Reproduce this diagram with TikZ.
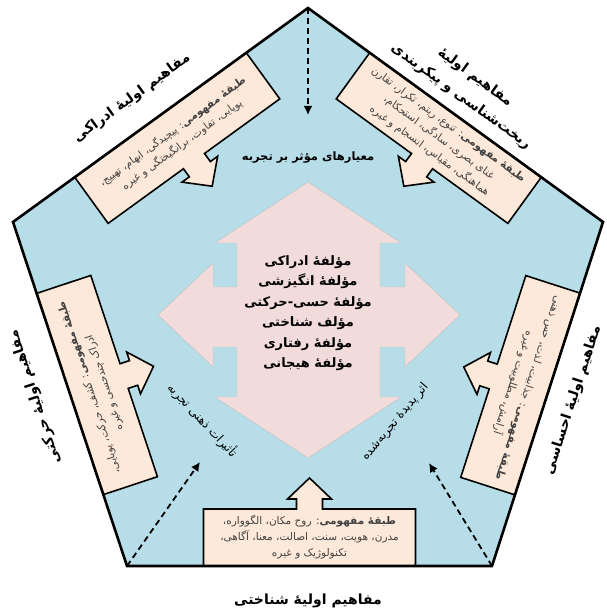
\documentclass[tikz,border=0pt]{standalone}
\usepackage{fontspec}
\usetikzlibrary{arrows.meta}
\TeXXeTstate=1
\newfontfamily\fa[Script=Arabic,BoldFont={DejaVu Sans Bold}]{DejaVu Sans}
\newcommand\RL[1]{\beginR #1\endR}
\definecolor{penta}{HTML}{B7DDE8}
\definecolor{peach}{HTML}{FDE9D9}
\definecolor{pinkstar}{HTML}{F2DCDB}
\tikzset{
  calloutshape/.style={draw=black,line width=1.6pt,fill=peach,line join=miter},
  boxtext/.style={font=\fa\fontsize{10.5}{16}\selectfont,text=black!75,align=center,inner sep=0pt},
  labeltext/.style={font=\fa\bfseries\fontsize{14}{24}\selectfont,align=center,inner sep=0pt},
  startext/.style={font=\fa\bfseries\fontsize{13}{20.5}\selectfont,align=center,inner sep=0pt},
  toptext/.style={font=\fa\bfseries\fontsize{11.5}{14}\selectfont,inner sep=0pt},
  sidetext/.style={font=\fa\fontsize{12}{14}\selectfont,inner sep=0pt},
  dasharrow/.style={line width=1.8pt,dash pattern=on 6pt off 4pt,-{Latex[length=9pt,width=9pt]}},
}
\newcommand\callout[3]{%
  \begin{scope}[shift={#1},rotate=#2]
    \draw[calloutshape] (-106,0) -- (106,0) -- (106,57) -- (13,57) -- (13,67) -- (22,67)
      -- (0,88) -- (-22,67) -- (-13,67) -- (-13,57) -- (-106,57) -- cycle;
    \coordinate (#3) at (0,28.5);
  \end{scope}}
\begin{document}
\begin{tikzpicture}[x=1pt,y=1pt]
\useasboundingbox (0,0) rectangle (606,615);
% pentagon vertices
\coordinate (A) at (308,607);
\coordinate (B) at (603,393);
\coordinate (C) at (492,49);
\coordinate (D) at (127,49);
\coordinate (E) at (13,393);
\fill[penta] (A) -- (E) -- (D) -- (C) -- (B) -- cycle;
% center star
\fill[pinkstar,draw=black!25,line width=0.4pt]
  (308,433) -- (401,372) -- (380,372) -- (380,328) -- (405,328) -- (405,352)
  -- (460,300) -- (405,248) -- (405,268) -- (380,268) -- (380,218) -- (401,218)
  -- (308,157) -- (215,218) -- (237,218) -- (237,268) -- (213,268) -- (213,248)
  -- (158,300) -- (213,352) -- (213,328) -- (237,328) -- (237,372) -- (215,372) -- cycle;
% callouts
\callout{(160.5,500)}{215.96}{tl}
\callout{(70,221)}{-71.67}{lf}
\callout{(309.5,49)}{0}{bt}
\callout{(547.5,221)}{72.12}{rt}
\callout{(455.5,500)}{144.04}{tr}
\draw[line width=2.6pt,line join=miter] (A) -- (E) -- (D) -- (C) -- (B) -- cycle;
% dashed arrows
\coordinate (dA) at (308,500);
\coordinate (dD) at (200,153);
\coordinate (dC) at (429,152);
\draw[dasharrow] (A) -- (dA);
\draw[dasharrow] (D) -- (dD);
\draw[dasharrow] (C) -- (dC);
% box texts
\node[boxtext,rotate=36] (ttl) at (tl) {\RL{\textbf{طبقهٔ مفهومی}: پیچیدگی، ابهام، تهییج،}\\\RL{پویایی، تفاوت، برانگیختگی و غیره}};
\node[boxtext,rotate=-36] (ttr) at (tr) {\RL{\textbf{طبقهٔ مفهومی}: تنوع، ریتم، تکرار، تقارن}\\\RL{غنای بصری، سادگی، استحکام،}\\\RL{هماهنگی، مقیاس، انسجام و غیره}};
\node[boxtext,rotate=108] (tlf) at (lf) {\RL{\textbf{طبقهٔ مفهومی}: کشف، حرکت، پویایی،}\\\RL{ادراک چندحسی و غیره}};
\node[boxtext,rotate=-108] (trt) at (rt) {\RL{\textbf{طبقهٔ مفهومی}: جذابیت، لذت، حس ذهنی}\\\RL{آرامش، مطلوبیت و غیره}};
\node[boxtext] (tbt) at (bt) {\RL{\textbf{طبقهٔ مفهومی}: روح مکان، الگوواره،}\\\RL{مدرن، هویت، سنت، اصالت، معنا، آگاهی،}\\\RL{تکنولوژیک و غیره}};
% outside labels
\node[labeltext,rotate=36] (ltl) at (132,517) {\RL{مفاهیم اولیهٔ ادراکی}};
\node[labeltext,rotate=-36] (ltr) at (468,528) {\RL{مفاهیم اولیهٔ}\\\RL{ریخت‌شناسی و پیکربندی}};
\node[labeltext,rotate=108] (llf) at (35,218) {\RL{مفاهیم اولیهٔ حرکتی}};
\node[labeltext,rotate=72] (lrt) at (573,215) {\RL{مفاهیم اولیهٔ احساسی}};
\node[labeltext] (lbt) at (308,14) {\RL{مفاهیم اولیهٔ شناختی}};
% star text
\node[startext] (st) at (308,302) {\RL{مؤلفهٔ ادراکی}\\\RL{مؤلفهٔ انگیزشی}\\\RL{مؤلفهٔ حسی-حرکتی}\\\RL{مؤلف شناختی}\\\RL{مؤلفهٔ رفتاری}\\\RL{مؤلفهٔ هیجانی}};
\node[toptext] (stop) at (308,457) {\RL{معیارهای مؤثر بر تجربه}};
\node[sidetext,rotate=-47] (sl) at (203,195) {\RL{تأثیرات ذهنی تجربه}};
\node[sidetext,rotate=50] (sr) at (395,193) {\RL{اثر پدیدهٔ تجربه‌شده}};
\end{tikzpicture}
\end{document}
